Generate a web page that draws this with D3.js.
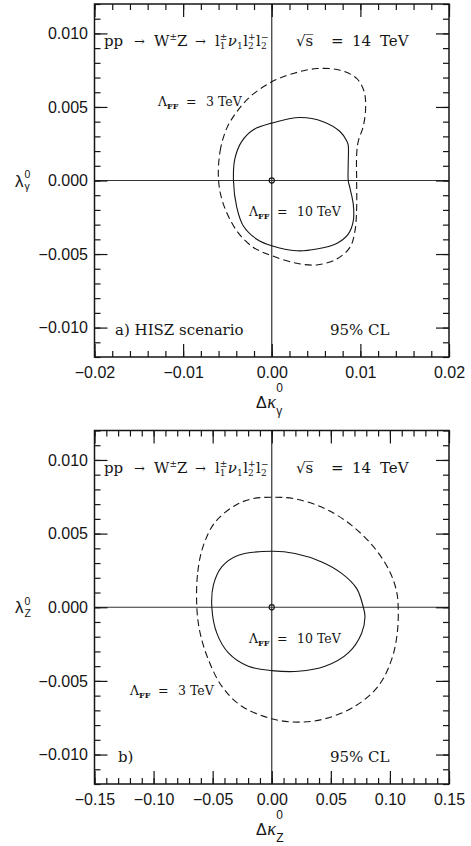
<!DOCTYPE html>
<html>
<head>
<meta charset="utf-8">
<script src="https://cdn.jsdelivr.net/npm/d3@7"></script>
<style>
  html, body { margin: 0; padding: 0; background: #fff; }
  svg { display: block; }
</style>
</head>
<body>
<svg id="chart" width="471" height="846"></svg>
<script>
// ---- axis ranges and tick values ----
const lambdaRange = [-0.012, 0.012];
const lambdaTicks = [-0.010, -0.005, 0.000, 0.005, 0.010];
const lambdaMinorTicks = d3.range(-12, 13).map(i => i / 1000);

const kappaGammaRange = [-0.02, 0.02];
const kappaGammaTicks = [-0.02, -0.01, 0.00, 0.01, 0.02];
const kappaGammaMinorTicks = d3.range(-10, 11).map(i => i / 500);

const kappaZRange = [-0.15, 0.15];
const kappaZTicks = [-0.15, -0.10, -0.05, 0.00, 0.05, 0.10, 0.15];
const kappaZMinorTicks = d3.range(-15, 16).map(i => i / 100);

// ---- 95% CL contours, points are [Δκ, λ] ----
// a) HISZ scenario, Λ_FF = 3 TeV
const hiszOuter = [
  [-0.00600, 0.00000], [-0.00583, 0.00198], [-0.00507, 0.00356], [-0.00394, 0.00468],
  [-0.00244, 0.00570], [0.00000, 0.00671], [0.00244, 0.00728], [0.00507, 0.00761],
  [0.00770, 0.00750], [0.00958, 0.00694], [0.01043, 0.00603], [0.01059, 0.00490],
  [0.01032, 0.00367], [0.00976, 0.00266], [0.00958, 0.00176], [0.00958, 0.00000],
  [0.00958, -0.00184], [0.00939, -0.00343], [0.00882, -0.00455], [0.00732, -0.00534],
  [0.00507, -0.00574], [0.00282, -0.00563], [0.00000, -0.00511], [-0.00207, -0.00455],
  [-0.00394, -0.00343], [-0.00545, -0.00162]
];
// a) HISZ scenario, Λ_FF = 10 TeV
const hiszInner = [
  [-0.00432, 0.00000], [-0.00414, 0.00153], [-0.00338, 0.00266], [-0.00207, 0.00345],
  [0.00000, 0.00390], [0.00319, 0.00428], [0.00580, 0.00400], [0.00770, 0.00333],
  [0.00845, 0.00270], [0.00863, 0.00240], [0.00863, 0.00120], [0.00863, 0.00000],
  [0.00882, -0.00050], [0.00920, -0.00162], [0.00920, -0.00275], [0.00863, -0.00365],
  [0.00732, -0.00428], [0.00507, -0.00466], [0.00282, -0.00478], [0.00000, -0.00444],
  [-0.00169, -0.00399], [-0.00320, -0.00309], [-0.00394, -0.00184]
];
// b) Λ_FF = 3 TeV
const zOuter = [
  [-0.0634, 0.00000], [-0.0626, 0.00240], [-0.0578, 0.00420], [-0.0479, 0.00578],
  [-0.0310, 0.00691], [-0.0169, 0.00736], [0.0000, 0.00747], [0.0197, 0.00736],
  [0.0451, 0.00669], [0.0676, 0.00556], [0.0873, 0.00399], [0.1000, 0.00240],
  [0.1057, 0.00105], [0.1070, 0.00000], [0.1062, -0.00176], [0.1014, -0.00356],
  [0.0901, -0.00536], [0.0704, -0.00672], [0.0451, -0.00757], [0.0225, -0.00780],
  [0.0000, -0.00757], [-0.0254, -0.00672], [-0.0423, -0.00536], [-0.0536, -0.00356],
  [-0.0606, -0.00176]
];
// b) Λ_FF = 10 TeV
const zInner = [
  [-0.0507, 0.00000], [-0.0494, 0.00150], [-0.0423, 0.00274], [-0.0282, 0.00353],
  [0.0000, 0.00380], [0.0197, 0.00365], [0.0423, 0.00308], [0.0592, 0.00230],
  [0.0718, 0.00128], [0.0775, 0.00000], [0.0789, -0.00064], [0.0761, -0.00176],
  [0.0648, -0.00310], [0.0451, -0.00401], [0.0225, -0.00435], [0.0000, -0.00430],
  [-0.0198, -0.00401], [-0.0367, -0.00310], [-0.0465, -0.00176]
];

// ---- layout ----
const svg = d3.select('#chart');
const frameLeft = 94.5, frameRight = 449;
const ink = '#151515';
const serif = "'DejaVu Serif', serif";
const sans = "'Liberation Sans', Arial, sans-serif";

// draws a run of text pieces left to right; stacked pieces share the x of the previous piece
function rich(g, x0, y0, pieces, base) {
  let cur = x0, lastStart = x0;
  pieces.forEach(p => {
    const start = p.at != null ? p.at : (p.stack ? lastStart : cur + (p.gap || 0));
    const t = g.append('text')
      .attr('x', start).attr('y', y0 + (p.shift || 0))
      .attr('font-family', p.family || base.family)
      .attr('font-size', p.size || base.size)
      .attr('font-style', p.style || 'normal')
      .attr('font-weight', p.weight || 'normal')
      .attr('fill', ink)
      .style('white-space', 'pre')
      .text(p.t);
    const w = t.node().getComputedTextLength();
    cur = p.stack ? Math.max(cur, start + w) : start + w;
    lastStart = start;
  });
}

function lambdaLabel(g, x0, y0, value) {
  rich(g, x0, y0, [
    { t: 'Λ', at: x0 },
    { t: 'FF', size: 8, weight: 'bold', shift: 3 },
    { t: '=', at: x0 + 28 },
    { t: value + ' TeV', at: x0 + 48 }
  ], { family: serif, size: 12.5 });
}

function drawPanel(p) {
  const x = d3.scaleLinear().domain(p.xDomain).range([frameLeft, frameRight]);
  const y = d3.scaleLinear().domain(lambdaRange).range([p.bottom, p.top]);
  const g = svg.append('g');

  // zero lines
  g.append('line').attr('x1', frameLeft).attr('x2', frameRight)
    .attr('y1', y(0)).attr('y2', y(0)).attr('stroke', '#333').attr('stroke-width', 1.2);
  g.append('line').attr('x1', x(0)).attr('x2', x(0))
    .attr('y1', p.top).attr('y2', p.bottom).attr('stroke', '#333').attr('stroke-width', 1.2);

  // contours
  const line = d3.line().x(d => x(d[0])).y(d => y(d[1]))
    .curve(d3.curveCatmullRomClosed.alpha(0.5));
  g.append('path').datum(p.outer).attr('d', line)
    .attr('fill', 'none').attr('stroke', ink).attr('stroke-width', 1.1)
    .attr('stroke-dasharray', '7,4');
  g.append('path').datum(p.inner).attr('d', line)
    .attr('fill', 'none').attr('stroke', ink).attr('stroke-width', 1.1);

  // SM point
  g.append('circle').attr('cx', x(0)).attr('cy', y(0)).attr('r', 2.6)
    .attr('fill', 'none').attr('stroke', ink).attr('stroke-width', 1.1);

  // axes: inward ticks on all four sides
  const major = 13, minor = 6;
  const axes = [
    [d3.axisBottom(x).tickValues(p.xMinor).tickSize(-minor).tickFormat(''), `translate(0,${p.bottom})`],
    [d3.axisTop(x).tickValues(p.xMinor).tickSize(-minor).tickFormat(''), `translate(0,${p.top})`],
    [d3.axisTop(x).tickValues(p.xTicks).tickSize(-major).tickFormat(''), `translate(0,${p.top})`],
    [d3.axisLeft(y).tickValues(lambdaMinorTicks).tickSize(-minor).tickFormat(''), `translate(${frameLeft},0)`],
    [d3.axisRight(y).tickValues(lambdaMinorTicks).tickSize(-minor).tickFormat(''), `translate(${frameRight},0)`],
    [d3.axisRight(y).tickValues(lambdaTicks).tickSize(-major).tickFormat(''), `translate(${frameRight},0)`],
    [d3.axisBottom(x).tickValues(p.xTicks).tickSize(-major).tickPadding(10)
      .tickFormat(d3.format('.2f')), `translate(0,${p.bottom})`],
    [d3.axisLeft(y).tickValues(lambdaTicks).tickSize(-major).tickPadding(6.5)
      .tickFormat(d3.format('.3f')), `translate(${frameLeft},0)`]
  ];
  axes.forEach(([ax, tr]) => {
    const a = g.append('g').attr('transform', tr).call(ax);
    a.select('.domain').remove();
    a.selectAll('line').attr('stroke', ink).attr('stroke-width', 1.2);
    a.selectAll('text').attr('font-family', sans).attr('font-size', 16).attr('fill', ink);
  });

  // frame
  g.append('rect').attr('x', frameLeft).attr('y', p.top)
    .attr('width', frameRight - frameLeft).attr('height', p.bottom - p.top)
    .attr('fill', 'none').attr('stroke', ink).attr('stroke-width', 1.5);

  // process and energy
  const ty = p.top + 42;
  rich(g, 0, ty, [
    { t: 'pp', at: 104 },
    { t: '→', at: 134, size: 13 },
    { t: 'W', at: 154 },
    { t: '±', size: 9, shift: -6 },
    { t: 'Z' },
    { t: '→', at: 195, size: 13 },
    { t: 'l', at: 215 },
    { t: '±', size: 9, shift: -6 },
    { t: '1', size: 9, shift: 3, stack: true },
    { t: 'ν', style: 'italic', gap: 0.5 },
    { t: '1', size: 9, shift: 3 },
    { t: 'l', gap: 0.5 },
    { t: '+', size: 9, shift: -6 },
    { t: '2', size: 9, shift: 3, stack: true },
    { t: 'l', gap: 0.5 },
    { t: '−', size: 9, shift: -6 },
    { t: '2', size: 9, shift: 3, stack: true }
  ], { family: serif, size: 15 });
  rich(g, 0, ty, [
    { t: '√', at: 296 },
    { t: 's\u0305' },
    { t: '=', at: 331 },
    { t: '14', at: 352 },
    { t: 'TeV', at: 380 }
  ], { family: serif, size: 15 });

  // contour labels
  p.labels.forEach(l => lambdaLabel(g, l.x, p.top + l.dy, l.value));

  // corner notes
  g.append('text').attr('x', p.noteX).attr('y', p.top + 331)
    .attr('font-family', serif).attr('font-size', 15).attr('fill', ink)
    .style('white-space', 'pre').text(p.note);
  g.append('text').attr('x', 330).attr('y', p.top + 331)
    .attr('font-family', serif).attr('font-size', 15).attr('fill', ink).text('95% CL');

  // axis titles
  rich(g, 256, p.bottom + 51, [
    { t: 'Δ', family: sans, size: 16 },
    { t: 'κ', family: "'Liberation Serif', serif", style: 'italic', size: 18, gap: 0.5 },
    { t: '0', family: sans, size: 12, shift: -16, gap: 0.5 },
    { t: p.sub, family: sans, size: 12, shift: 6.5, stack: true }
  ], { family: sans, size: 16 });
  rich(g, 15, y(0) + 6, [
    { t: 'λ', family: sans, size: 17 },
    { t: '0', family: sans, size: 10.5, shift: -8.5, gap: 1 },
    { t: p.sub, family: sans, size: 10.5, shift: 3.5, stack: true }
  ], { family: sans, size: 17 });
}

drawPanel({
  top: 4, bottom: 357,
  xDomain: kappaGammaRange, xTicks: kappaGammaTicks, xMinor: kappaGammaMinorTicks,
  outer: hiszOuter, inner: hiszInner,
  labels: [{ x: 158, dy: 102, value: '3' }, { x: 249, dy: 212, value: '10' }],
  note: 'a) HISZ scenario', noteX: 115, sub: 'γ'
});
drawPanel({
  top: 430.5, bottom: 784,
  xDomain: kappaZRange, xTicks: kappaZTicks, xMinor: kappaZMinorTicks,
  outer: zOuter, inner: zInner,
  labels: [{ x: 249, dy: 212.5, value: '10' }, { x: 130, dy: 264.5, value: '3' }],
  note: 'b)', noteX: 118, sub: 'Z'
});
</script>
</body>
</html>
